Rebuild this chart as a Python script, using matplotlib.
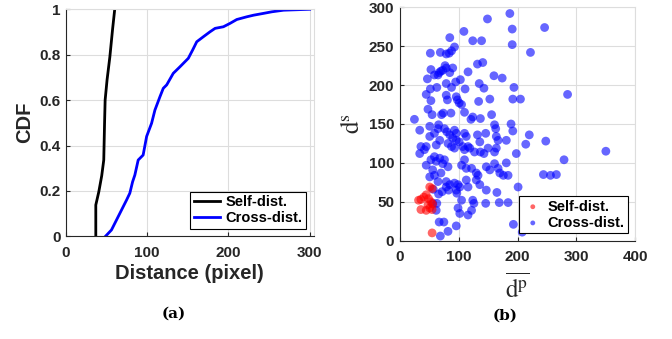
import matplotlib
matplotlib.use("Agg")
import matplotlib.pyplot as plt

# === data: (a) CDF curves ===
self_x = [36.7, 36.7, 40.4, 44.0, 46.5, 47.5, 48.2, 50.6, 54.0, 57.3, 60.0]
self_y = [0.0, 0.138, 0.196, 0.267, 0.336, 0.50, 0.60, 0.69, 0.79, 0.91, 1.0]

cross_x = [48.6, 56, 62.2, 68.4, 74.6, 78.6, 82, 84.8, 88.9, 95, 99.3, 105.4, 109.5,
           115.7, 119.8, 124, 132.1, 140.4, 150.6, 156, 161, 169.1, 177.4, 183.6,
           193.8, 202, 210.3, 222.7, 231, 243.2, 253.6, 267.9, 300]
cross_y = [0.0, 0.028, 0.072, 0.116, 0.16, 0.19, 0.24, 0.27, 0.336, 0.358, 0.44, 0.498,
           0.556, 0.615, 0.652, 0.667, 0.718, 0.747, 0.784, 0.821, 0.857, 0.879, 0.901,
           0.916, 0.923, 0.938, 0.955, 0.967, 0.974, 0.982, 0.989, 0.996, 1.0]

# === data: (b) scatter ===
self_dp = [51, 55, 45, 41, 36, 32, 49, 53, 36, 45, 51, 55, 48, 56, 55]
self_ds = [69, 67, 59, 56, 53, 52, 54, 50, 40, 39, 42, 40, 46, 47, 10]

cross_dp = [187, 149, 191, 246, 109, 85, 124, 139, 191, 222, 52, 69, 93, 88, 84, 79,
            116, 141, 132, 53, 73, 79, 85, 90, 67, 65, 70, 47, 59, 77, 160, 174, 103,
            95, 88, 79, 63, 52, 135, 143, 111, 194, 45, 53, 79, 81, 96, 98, 101, 105,
            134, 153, 192, 205, 285, 48, 25, 55, 71, 74, 87, 110, 124, 121, 137, 156,
            189, 34, 51, 66, 65, 59, 76, 80, 85, 93, 96, 90, 96, 101, 110, 113, 132,
            146, 161, 163, 164, 192, 220, 51, 36, 45, 34, 42, 62, 68, 82, 88, 93, 107,
            110, 116, 119, 127, 137, 143, 136, 150, 161, 164, 167, 181, 214, 248, 198,
            350, 279, 244, 256, 266, 45, 53, 59, 62, 68, 73, 76, 56, 59, 70, 82, 105,
            110, 113, 122, 130, 133, 147, 153, 167, 161, 181, 170, 176, 184, 51, 65,
            79, 85, 93, 99, 102, 96, 97, 79, 83, 113, 116, 130, 136, 147, 165, 201,
            105, 124, 126, 146, 169, 184, 63, 66, 72, 99, 102, 116, 122, 62, 67, 75,
            82, 69, 96, 57, 56, 193, 208]
cross_ds = [292, 285, 272, 274, 269, 261, 257, 257, 252, 242, 241, 242, 249, 244, 241,
            240, 217, 229, 227, 220, 219, 222, 216, 222, 216, 213, 218, 208, 213, 225,
            212, 209, 207, 204, 197, 202, 197, 195, 202, 196, 195, 197, 188, 180, 187,
            181, 185, 181, 177, 175, 179, 182, 182, 182, 188, 169, 156, 162, 162, 164,
            164, 165, 159, 156, 157, 162, 150, 142, 147, 149, 144, 138, 144, 140, 136,
            142, 138, 132, 129, 127, 138, 134, 136, 138, 149, 144, 134, 141, 136, 134,
            121, 121, 112, 117, 123, 129, 125, 121, 119, 121, 117, 121, 119, 114, 114,
            112, 127, 119, 114, 119, 129, 129, 124, 128, 112, 115, 104, 85, 84, 85, 97,
            104, 108, 102, 106, 99, 104, 91, 84, 87, 95, 97, 104, 93, 93, 87, 84, 95,
            91, 93, 99, 100, 87, 84, 84, 82, 76, 76, 72, 74, 72, 69, 65, 61, 69, 65, 78,
            69, 78, 72, 65, 62, 69, 52, 52, 48, 48, 49, 49, 48, 60, 63, 42, 35, 33, 39,
            39, 24, 24, 12, 6, 19, 66, 48, 21, 11]

a_xticks = [0, 100, 200, 300]
a_yticks = [0, 0.2, 0.4, 0.6, 0.8, 1]
a_yticklabels = ["0", "0.2", "0.4", "0.6", "0.8", "1"]
b_xticks = [0, 100, 200, 300, 400]
b_yticks = [0, 50, 100, 150, 200, 250, 300]

plt.rcParams["font.family"] = ["Liberation Sans", "DejaVu Sans"]
plt.rcParams["mathtext.fontset"] = "stix"
dark = "#262626"
tick_font = {"fontweight": "bold", "fontsize": 11, "color": dark}

fig = plt.figure(figsize=(6.72, 3.39), dpi=100)

# === (a) CDF ===
ax1 = fig.add_axes([0.0982, 0.3029, 0.3686, 0.6697])
ax1.plot(self_x, self_y, color="black", lw=2, label="Self-dist.")
ax1.plot(cross_x, cross_y, color="blue", lw=2, label="Cross-dist.")
ax1.set_xlim(0, 305)
ax1.set_ylim(0, 1)
ax1.set_xticks(a_xticks, [str(t) for t in a_xticks], **tick_font)
ax1.set_yticks(a_yticks, a_yticklabels, **tick_font)
ax1.set_xlabel("Distance (pixel)", fontsize=14.5, fontweight="bold", labelpad=3,
               color=dark)
ax1.set_ylabel("CDF", fontsize=14.5, fontweight="bold", labelpad=4, color=dark)
leg1 = ax1.legend(loc="lower right", prop={"weight": "bold", "size": 10.5},
                  frameon=True, fancybox=False, edgecolor="black", handlelength=1.8,
                  borderpad=0.25, labelspacing=0.15, handletextpad=0.4,
                  borderaxespad=0.5, framealpha=1)
leg1.get_frame().set_linewidth(0.8)

# === (b) scatter ===
ax2 = fig.add_axes([0.5948, 0.29, 0.3506, 0.6885])
ax2.scatter(self_dp, self_ds, s=40, color="red", alpha=0.6, edgecolors="none",
            label="Self-dist.", zorder=3)
ax2.scatter(cross_dp, cross_ds, s=40, color="blue", alpha=0.6, edgecolors="none",
            label="Cross-dist.", zorder=2)
ax2.set_xlim(0, 400)
ax2.set_ylim(0, 300)
ax2.set_xticks(b_xticks, [str(t) for t in b_xticks], **tick_font)
ax2.set_yticks(b_yticks, [str(t) for t in b_yticks], **tick_font)
ax2.set_xlabel(r"$\overline{\mathrm{d}^{\mathrm{p}}}$", fontsize=18, labelpad=6,
               fontweight="normal", color=dark)
ax2.set_ylabel(r"$\mathrm{d}^{\mathrm{s}}$", fontsize=18, labelpad=3,
               fontweight="normal", color=dark)
leg2 = ax2.legend(loc="lower right", prop={"weight": "bold", "size": 10.5},
                  frameon=True, fancybox=False, edgecolor="black", markerscale=0.55,
                  handlelength=1.4, borderpad=0.25, labelspacing=0.15,
                  handletextpad=0.3, borderaxespad=0.5, framealpha=1)
leg2.get_frame().set_linewidth(0.8)
for lh in leg2.legend_handles:
    lh.set_alpha(0.6)

for ax in (ax1, ax2):
    ax.grid(True, color="#dddddd", lw=0.8)
    ax.set_axisbelow(True)
    ax.tick_params(direction="in", length=3, colors=dark)
    ax.tick_params(axis="x", pad=7)
    ax.tick_params(axis="y", pad=4)
    ax.spines["left"].set_color(dark)
    ax.spines["bottom"].set_color(dark)
    ax.spines["top"].set_color("#dddddd")
    ax.spines["right"].set_color("#dddddd")

fig.text(0.258, 0.075, "(a)", fontsize=11, fontweight="bold", family="DejaVu Serif",
         ha="center", va="center")
fig.text(0.752, 0.068, "(b)", fontsize=11, fontweight="bold", family="DejaVu Serif",
         ha="center", va="center")

fig.savefig("out.png", dpi=100)
